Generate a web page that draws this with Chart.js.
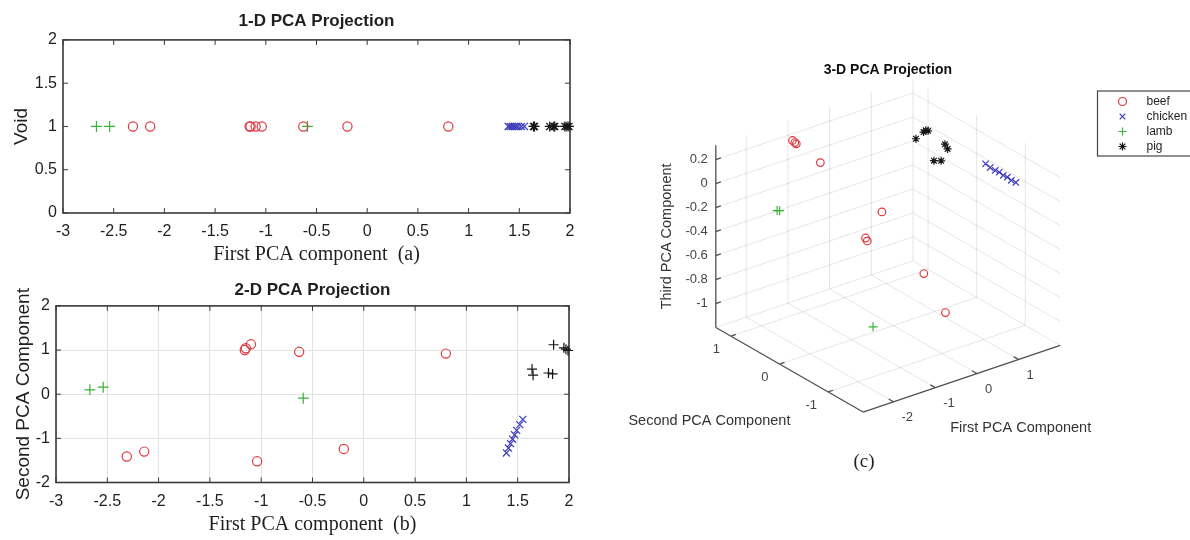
<!DOCTYPE html>
<html>
<head>
<meta charset="utf-8">
<title>PCA projections</title>
<script src="https://cdn.jsdelivr.net/npm/chart.js"></script>
<style>
  html, body { margin: 0; padding: 0; background: #fff; }
  #page { position: relative; width: 1190px; height: 540px; overflow: hidden; }
  canvas { position: absolute; }
</style>
</head>
<body>
<div id="page">
  <canvas id="pca1d" width="600" height="270" style="left:0;top:0"></canvas>
  <canvas id="pca2d" width="600" height="270" style="left:0;top:270px"></canvas>
  <canvas id="pca3d" width="590" height="440" style="left:600px;top:50px"></canvas>
</div>
<script>
// PCA scores, one array per component and meat type
const categories = ['beef', 'chicken', 'lamb', 'pig'];

const beefPC1 = [-2.31, -2.14, -1.16, -1.15, -1.10, -1.04, -0.63, -0.195, 0.80];
const beefPC2 = [-1.41, -1.30, 1.00, 1.04, 1.13, -1.52, 0.96, -1.24, 0.92];
const beefPC3 = [0.13, 0.06, 0.22, 0.22, 0.21, -0.29, 0.01, -0.78, -0.56];

const chickenPC1 = [1.39, 1.41, 1.43, 1.45, 1.47, 1.49, 1.52, 1.55];
const chickenPC2 = [-1.33, -1.22, -1.12, -1.02, -0.92, -0.82, -0.69, -0.57];
const chickenPC3 = [0.14, 0.13, 0.13, 0.12, 0.12, 0.11, 0.10, 0.10];

const lambPC1 = [-2.67, -2.54, -0.59];
const lambPC2 = [0.10, 0.16, -0.09];
const lambPC3 = [0.05, 0.02, -1.12];

const pigPC1 = [1.64, 1.65, 1.80, 1.84, 1.85, 1.95, 1.97, 1.99];
const pigPC2 = [0.57, 0.43, 0.48, 0.46, 1.12, 1.05, 1.02, 0.99];
const pigPC3 = [-0.15, -0.12, -0.01, -0.05, -0.12, -0.06, -0.04, -0.04];

// the 1-D plot puts every sample on this dummy level
const voidLevel = 1;

// axis ranges and tick labels
const pc1Range = [-3, 2];
const voidRange = [0, 2];
const pc2Range = [-2, 2];
const pc1Ticks3d = [-2, -1, 0, 1];
const pc2Ticks3d = [-1, 0, 1];
const pc3Ticks3d = [-1, -0.8, -0.6, -0.4, -0.2, 0, 0.2];

// 3-D box limits and screen direction of one unit along each component
const view = {
  pc1Lim: [-2.73, 2.0],
  pc2Lim: [-1.72, 1.31],
  pc3Lim: [-1.2, 0.32],
  e1: [42.1, 14.3],
  e2: [-49.1, 28.3],
  e3: [0, 121.6]
};

const SANS = "'Liberation Sans', Arial, sans-serif";
const SERIF = "'Liberation Serif', 'Times New Roman', serif";
const TEXT = '#1f1f1f';

const markers = {
  beef:    { pointStyle: 'circle',   color: '#e0393f' },
  chicken: { pointStyle: 'crossRot', color: '#3a3abb' },
  lamb:    { pointStyle: 'cross',    color: '#37b437' },
  pig:     { pointStyle: 'star',     color: '#151515' }
};

// tick text without trailing zeros: 2, 1.5, -0.5
const plainTick = v => String(Math.round(v * 100) / 100);

function project(a, b, c) {
  const d1 = a - view.pc1Lim[0], d2 = b - view.pc2Lim[0], d3 = c - view.pc3Lim[0];
  return {
    x: d1 * view.e1[0] + d2 * view.e2[0] + d3 * view.e3[0],
    y: d1 * view.e1[1] + d2 * view.e2[1] + d3 * view.e3[1]
  };
}

function scatterSet(label, points, style, radius) {
  return {
    label: label,
    data: points,
    pointStyle: style,
    pointRadius: radius,
    pointHoverRadius: radius,
    pointBorderColor: markers[label].color,
    pointBackgroundColor: 'rgba(0,0,0,0)',
    pointBorderWidth: 1.2,
    clip: false
  };
}

const on1d = xs => xs.map(v => ({ x: v, y: voidLevel }));
const on2d = (xs, ys) => xs.map((v, i) => ({ x: v, y: ys[i] }));
const on3d = (xs, ys, zs) => xs.map((v, i) => project(v, ys[i], zs[i]));

// box outline with inward ticks on all four sides
const boxAxes = {
  id: 'boxAxes',
  beforeDatasetsDraw(chart) {
    const { ctx, chartArea: a, scales: { x, y } } = chart;
    const len = 5;
    ctx.save();
    ctx.strokeStyle = '#3a3a3a';
    ctx.lineWidth = 1;
    ctx.beginPath();
    x.ticks.forEach(t => {
      const px = x.getPixelForValue(t.value);
      ctx.moveTo(px, a.bottom); ctx.lineTo(px, a.bottom - len);
      ctx.moveTo(px, a.top); ctx.lineTo(px, a.top + len);
    });
    y.ticks.forEach(t => {
      const py = y.getPixelForValue(t.value);
      ctx.moveTo(a.left, py); ctx.lineTo(a.left + len, py);
      ctx.moveTo(a.right, py); ctx.lineTo(a.right - len, py);
    });
    ctx.stroke();
    ctx.lineWidth = 1.6;
    ctx.strokeRect(a.left, a.top, a.right - a.left, a.bottom - a.top);
    ctx.restore();
  }
};

function flatOptions(title, xTitle, yTitle, yRange, frame, showGrid) {
  return {
    responsive: false,
    animation: false,
    devicePixelRatio: 1,
    layout: { padding: { left: 0, right: frame.right, top: 0, bottom: 0 } },
    plugins: {
      legend: { display: false },
      tooltip: { enabled: false },
      title: {
        display: true,
        text: title,
        fullSize: false,
        color: TEXT,
        font: { family: SANS, size: 17, weight: 'bold' },
        padding: frame.titlePad
      }
    },
    scales: {
      x: {
        type: 'linear',
        min: pc1Range[0],
        max: pc1Range[1],
        ticks: { stepSize: 0.5, callback: plainTick, color: TEXT, font: { family: SANS, size: 16 }, padding: frame.xTickPad, maxRotation: 0, autoSkip: false },
        grid: { display: showGrid, color: '#e2e2e2', drawTicks: false },
        border: { display: false },
        title: { display: true, text: xTitle, color: TEXT, font: { family: SERIF, size: 20 }, padding: { top: 0, bottom: 3 } },
        afterFit: s => { s.height = frame.xHeight; }
      },
      y: {
        type: 'linear',
        min: yRange[0],
        max: yRange[1],
        ticks: { stepSize: frame.yStep, callback: plainTick, color: TEXT, font: { family: SANS, size: 16 }, padding: 6 },
        grid: { display: showGrid, color: '#e2e2e2', drawTicks: false },
        border: { display: false },
        title: { display: true, text: yTitle, color: TEXT, font: { family: SANS, size: 19 }, padding: { top: frame.yTitlePad } },
        afterFit: s => { s.width = frame.yWidth; }
      }
    }
  };
}

// 1-D projection
new Chart(document.getElementById('pca1d'), {
  type: 'scatter',
  data: {
    datasets: [
      scatterSet('beef', on1d(beefPC1), 'circle', 4.6),
      scatterSet('chicken', on1d(chickenPC1), 'crossRot', 5),
      scatterSet('lamb', on1d(lambPC1), 'cross', 5.5),
      scatterSet('pig', on1d(pigPC1), 'star', 5)
    ]
  },
  options: flatOptions('1-D PCA Projection', 'First PCA component  (a)', 'Void', voidRange,
    { right: 30, titlePad: { top: 11, bottom: 8.5 }, xTickPad: 9, xHeight: 57, yWidth: 63, yStep: 0.5, yTitlePad: 10 }, false),
  plugins: [boxAxes]
});

// 2-D projection
new Chart(document.getElementById('pca2d'), {
  type: 'scatter',
  data: {
    datasets: [
      scatterSet('beef', on2d(beefPC1, beefPC2), 'circle', 4.6),
      scatterSet('chicken', on2d(chickenPC1, chickenPC2), 'crossRot', 5),
      scatterSet('lamb', on2d(lambPC1, lambPC2), 'cross', 5.5),
      scatterSet('pig', on2d(pigPC1, pigPC2), 'cross', 5)
    ]
  },
  options: flatOptions('2-D PCA Projection', 'First PCA component  (b)', 'Second PCA Component', pc2Range,
    { right: 31, titlePad: { top: 10, bottom: 5.5 }, xTickPad: 9.5, xHeight: 57.5, yWidth: 56, yStep: 1, yTitlePad: 12 }, true),
  plugins: [boxAxes]
});

// 3-D projection: box walls, grid, axes and legend
const box3d = {
  id: 'box3d',
  beforeDatasetsDraw(chart) {
    const { ctx, scales: { x, y } } = chart;
    const at = (a, b, c) => { const p = project(a, b, c); return [x.getPixelForValue(p.x), y.getPixelForValue(p.y)]; };
    const seg = (p, q) => { const s = at(...p), e = at(...q); ctx.moveTo(s[0], s[1]); ctx.lineTo(e[0], e[1]); };
    const [x0, x1] = view.pc1Lim, [y0, y1] = view.pc2Lim, [z0, z1] = view.pc3Lim;

    ctx.save();
    ctx.beginPath();
    pc1Ticks3d.forEach(v => { seg([v, y0, z0], [v, y1, z0]); seg([v, y1, z0], [v, y1, z1]); });
    pc2Ticks3d.forEach(v => { seg([x0, v, z0], [x1, v, z0]); seg([x1, v, z0], [x1, v, z1]); });
    pc3Ticks3d.forEach(v => { seg([x0, y1, v], [x1, y1, v]); seg([x1, y1, v], [x1, y0, v]); });
    seg([x1, y1, z0], [x1, y1, z1]);
    seg([x0, y1, z0], [x1, y1, z0]);
    seg([x1, y1, z0], [x1, y0, z0]);
    ctx.strokeStyle = 'rgba(0,0,0,0.13)';
    ctx.lineWidth = 0.8;
    ctx.stroke();

    // axis lines and ticks
    ctx.beginPath();
    seg([x0, y1, z0], [x0, y1, z1]);
    seg([x0, y1, z0], [x0, y0, z0]);
    seg([x0, y0, z0], [x1, y0, z0]);
    pc3Ticks3d.forEach(v => seg([x0, y1, v], [x0 + 0.12, y1, v]));
    pc2Ticks3d.forEach(v => seg([x0, v, z0], [x0 + 0.12, v, z0]));
    pc1Ticks3d.forEach(v => seg([v, y0, z0], [v, y0 + 0.1, z0]));
    ctx.strokeStyle = '#505050';
    ctx.lineWidth = 1.3;
    ctx.stroke();

    // tick labels
    ctx.fillStyle = '#444';
    ctx.font = '13px ' + SANS;
    ctx.textBaseline = 'middle';
    ctx.textAlign = 'right';
    pc3Ticks3d.forEach(v => { const p = at(x0, y1, v); ctx.fillText(String(v), p[0] - 8, p[1]); });
    pc2Ticks3d.forEach(v => { const p = at(x0, v, z0); ctx.fillText(String(v), p[0] - 11, p[1] + 13); });
    ctx.textAlign = 'left';
    pc1Ticks3d.forEach(v => { const p = at(v, y0, z0); ctx.fillText(String(v), p[0] + 8, p[1] + 16); });

    // axis titles
    ctx.fillStyle = '#333';
    ctx.font = '14.5px ' + SANS;
    ctx.textAlign = 'center';
    const zMid = at(x0, y1, (z0 + z1) / 2);
    ctx.save();
    ctx.translate(zMid[0] - 49, zMid[1]);
    ctx.rotate(-Math.PI / 2);
    ctx.fillText('Third PCA Component', 0, 0);
    ctx.restore();
    const yMid = at(x0, (y0 + y1) / 2, z0);
    ctx.fillText('Second PCA Component', yMid[0] - 80, yMid[1] + 51);
    const xMid = at((x0 + x1) / 2, y0, z0);
    ctx.fillText('First PCA Component', xMid[0] + 59, xMid[1] + 49);
    ctx.restore();
  },
  afterDraw(chart) {
    const ctx = chart.ctx;
    ctx.save();
    // panel caption
    ctx.fillStyle = TEXT;
    ctx.font = '19px ' + SERIF;
    ctx.textAlign = 'center';
    ctx.textBaseline = 'middle';
    ctx.fillText('(c)', 264, 412);

    // legend box
    ctx.strokeStyle = '#444';
    ctx.lineWidth = 1.2;
    ctx.strokeRect(497.5, 41, 100, 65);
    ctx.font = '12px ' + SANS;
    ctx.textAlign = 'left';
    chart.data.datasets.forEach((ds, i) => {
      const my = 51.5 + i * 15;
      drawMarker(ctx, ds.pointStyle, 522.5, my, 4, ds.pointBorderColor);
      ctx.fillStyle = TEXT;
      ctx.fillText(ds.label, 546.5, my);
    });
    ctx.restore();
  }
};

function drawMarker(ctx, style, cx, cy, r, color) {
  ctx.strokeStyle = color;
  ctx.lineWidth = 1.2;
  ctx.beginPath();
  if (style === 'circle') ctx.arc(cx, cy, r, 0, Math.PI * 2);
  if (style === 'cross' || style === 'star') {
    ctx.moveTo(cx - r, cy); ctx.lineTo(cx + r, cy);
    ctx.moveTo(cx, cy - r); ctx.lineTo(cx, cy + r);
  }
  if (style === 'crossRot' || style === 'star') {
    const d = r * Math.SQRT1_2;
    ctx.moveTo(cx - d, cy - d); ctx.lineTo(cx + d, cy + d);
    ctx.moveTo(cx - d, cy + d); ctx.lineTo(cx + d, cy - d);
  }
  ctx.stroke();
}

new Chart(document.getElementById('pca3d'), {
  type: 'scatter',
  data: {
    datasets: [
      scatterSet('beef', on3d(beefPC1, beefPC2, beefPC3), 'circle', 3.8),
      scatterSet('chicken', on3d(chickenPC1, chickenPC2, chickenPC3), 'crossRot', 4.5),
      scatterSet('lamb', on3d(lambPC1, lambPC2, lambPC3), 'cross', 4.5),
      scatterSet('pig', on3d(pigPC1, pigPC2, pigPC3), 'star', 4)
    ]
  },
  options: {
    responsive: false,
    animation: false,
    devicePixelRatio: 1,
    layout: { padding: { left: 0, right: 20, top: 0, bottom: 0 } },
    plugins: {
      legend: { display: false },
      tooltip: { enabled: false },
      title: {
        display: true,
        text: '3-D PCA Projection',
        fullSize: false,
        color: '#111',
        font: { family: SANS, size: 14, weight: 'bold' },
        padding: { top: 12, bottom: 8 }
      }
    },
    scales: {
      x: { type: 'linear', display: false, min: -260, max: 310 },
      y: { type: 'linear', display: false, min: -73.3, max: 329.9 }
    }
  },
  plugins: [box3d]
});
</script>
</body>
</html>
